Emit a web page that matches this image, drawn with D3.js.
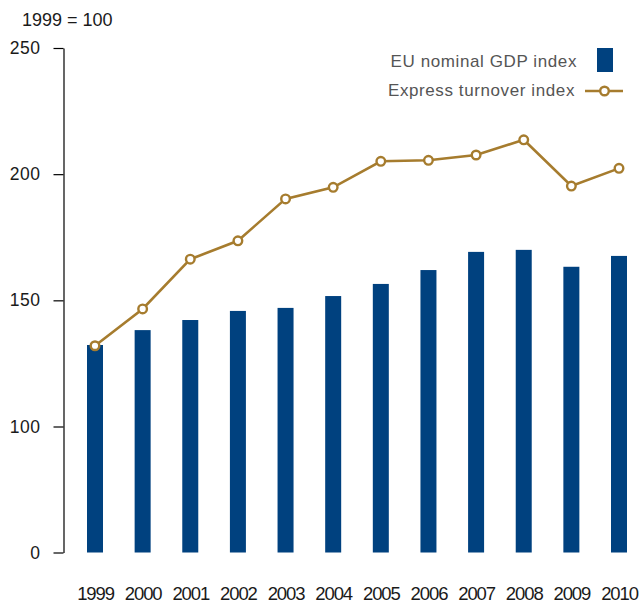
<!DOCTYPE html>
<html><head><meta charset="utf-8">
<script src="https://cdn.jsdelivr.net/npm/d3@7"></script>
<style>body{margin:0;background:#fff}svg{display:block}text{font-family:"Liberation Sans",Arial,Helvetica,sans-serif}</style>
</head><body><svg id="c" width="639" height="603"></svg>
<script>
const years = ["1999","2000","2001","2002","2003","2004","2005","2006","2007","2008","2009","2010"];
const gdpIndex = [132.3,138.2,142.2,145.8,147.0,151.7,156.5,162.0,169.2,170.0,163.3,167.6];
const expressIndex = [132.0,146.6,166.3,173.6,190.2,194.8,205.1,205.5,207.6,213.6,195.3,202.3];
const yTicks = [0,100,150,200,250];
const seriesNames = ["EU nominal GDP index","Express turnover index"];
const unitLabel = "1999 = 100";

const blue = "#00417f", gold = "#a67c2e";
const svg = d3.select("#c");
const x = d3.scalePoint().domain(years).range([95,619]);
const y = d3.scaleLinear().domain([0,100,250]).range([552.5,426.5,48]);

// y axis
const yAxis = d3.axisLeft(y).tickValues(yTicks).tickSize(10).tickPadding(13).tickSizeOuter(0);
const ga = svg.append("g").attr("transform","translate(63.5,0)").call(yAxis);
ga.select(".domain").attr("stroke","#000").attr("stroke-width",1.2);
ga.selectAll(".tick line").attr("stroke","#000").attr("stroke-width",1.2);
ga.selectAll(".tick text").attr("font-size","17.5px").attr("letter-spacing","0.5px").attr("fill","#1a1a1a").attr("font-family","Liberation Sans, Arial, sans-serif");

// x labels
const gx = d3.axisBottom(x).tickSize(0).tickPadding(0);
const gxa = svg.append("g").attr("transform","translate(0,586.5)").call(gx);
gxa.select(".domain").remove();
gxa.selectAll(".tick text").attr("font-size","18.5px").attr("letter-spacing","-1.1px").attr("fill","#1a1a1a")
  .attr("font-family","Liberation Sans, Arial, sans-serif").attr("dy","0.72em");

// bars
const bw = 16;
svg.append("g").selectAll("rect").data(years).join("rect")
  .attr("x",d=>x(d)-bw/2).attr("width",bw)
  .attr("y",(d,i)=>y(gdpIndex[i])).attr("height",(d,i)=>y(0)-y(gdpIndex[i]))
  .attr("fill",blue);

// line
const line = d3.line().x((d,i)=>x(years[i])).y(d=>y(d));
svg.append("path").datum(expressIndex).attr("d",line).attr("fill","none").attr("stroke",gold).attr("stroke-width",2.6);
svg.append("g").selectAll("circle").data(expressIndex).join("circle")
  .attr("cx",(d,i)=>x(years[i])).attr("cy",d=>y(d)).attr("r",4.3)
  .attr("fill","#fff").attr("stroke",gold).attr("stroke-width",2.4);

// title
svg.append("text").attr("x",22).attr("y",25.5).attr("font-size","18px").attr("fill","#1a1a1a").text(unitLabel);

// legend
const lg = svg.append("g");
lg.append("text").attr("x",577).attr("y",66.5).attr("text-anchor","end").attr("font-size","17px")
  .attr("letter-spacing","0.6px").attr("fill","#555").text(seriesNames[0]);
lg.append("rect").attr("x",597).attr("y",48).attr("width",16).attr("height",24).attr("fill",blue);
lg.append("text").attr("x",575).attr("y",95.5).attr("text-anchor","end").attr("font-size","17px")
  .attr("letter-spacing","0.6px").attr("fill","#555").text(seriesNames[1]);
lg.append("line").attr("x1",585).attr("x2",623).attr("y1",91).attr("y2",91).attr("stroke",gold).attr("stroke-width",2.6);
lg.append("circle").attr("cx",604.5).attr("cy",91).attr("r",4.3).attr("fill","#fff").attr("stroke",gold).attr("stroke-width",2.4);
</script></body></html>
